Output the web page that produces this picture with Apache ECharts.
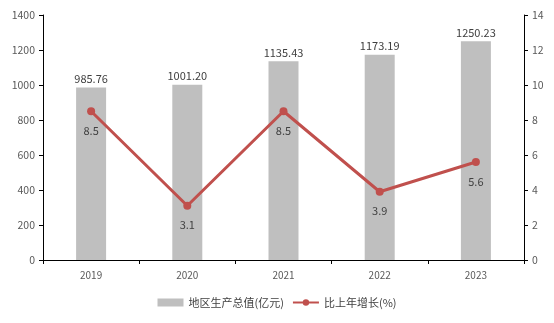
<!DOCTYPE html>
<html><head><meta charset="utf-8">
<script src="https://cdn.jsdelivr.net/npm/echarts@6/dist/echarts.min.js"></script>
<style>html,body{margin:0;padding:0;background:#fff}#c{width:554px;height:323px}</style>
</head><body><div id="c"></div>
<script>
const categories = ['2019','2020','2021','2022','2023'];
const gdpValues = [985.76, 1001.20, 1135.43, 1173.19, 1250.23];
const growthValues = [8.5, 3.1, 8.5, 3.9, 5.6];
const gdpLabels = ['985.76','1001.20','1135.43','1173.19','1250.23'];
const seriesNames = ['地区生产总值(亿元)', '比上年增长(%)'];

const font = '"Noto Sans CJK SC", "Microsoft YaHei", sans-serif';
const chart = echarts.init(document.getElementById('c'));
chart.setOption({
  animation: false,
  textStyle: {fontFamily: font},
  grid: {left: 43, right: 30, top: 15, bottom: 63},
  legend: {
    bottom: 10, left: 'center', itemGap: 8, itemWidth: 26, itemHeight: 8,
    textStyle: {fontSize: 11, color: '#404040', fontFamily: font},
    data: [{name: seriesNames[0], icon: 'rect'}, {name: seriesNames[1]}]
  },
  xAxis: {
    type: 'category', data: categories,
    axisLine: {lineStyle: {color: '#000', width: 1}},
    axisTick: {show: true, alignWithLabel: false, length: 4, lineStyle: {color: '#000'}},
    axisLabel: {color: '#595959', fontSize: 10, margin: 10, fontFamily: font}
  },
  yAxis: [{
    type: 'value', min: 0, max: 1400, interval: 200,
    axisLine: {show: true, lineStyle: {color: '#000'}},
    axisTick: {show: true, length: 4, lineStyle: {color: '#000'}},
    splitLine: {show: false},
    axisLabel: {color: '#595959', fontSize: 10.5, margin: 8, fontFamily: font, formatter: v => String(v)}
  }, {
    type: 'value', min: 0, max: 14, interval: 2,
    axisLine: {show: true, lineStyle: {color: '#000'}},
    axisTick: {show: true, length: 4, lineStyle: {color: '#000'}},
    splitLine: {show: false},
    axisLabel: {color: '#595959', fontSize: 10.5, margin: 8, fontFamily: font, formatter: v => String(v)}
  }],
  series: [{
    name: seriesNames[0], type: 'bar', data: gdpValues, barWidth: 30,
    itemStyle: {color: '#bfbfbf'},
    label: {show: true, position: 'top', distance: 3, color: '#404040', fontSize: 11,
      fontFamily: font, formatter: p => gdpLabels[p.dataIndex]}
  }, {
    name: seriesNames[1], type: 'line', yAxisIndex: 1, data: growthValues,
    symbol: 'circle', symbolSize: 8,
    lineStyle: {color: '#c0504d', width: 3},
    itemStyle: {color: '#c0504d'},
    label: {show: true, position: 'bottom', distance: 10, color: '#404040', fontSize: 11,
      fontFamily: font, formatter: p => p.value.toFixed(1)}
  }]
});
</script></body></html>
